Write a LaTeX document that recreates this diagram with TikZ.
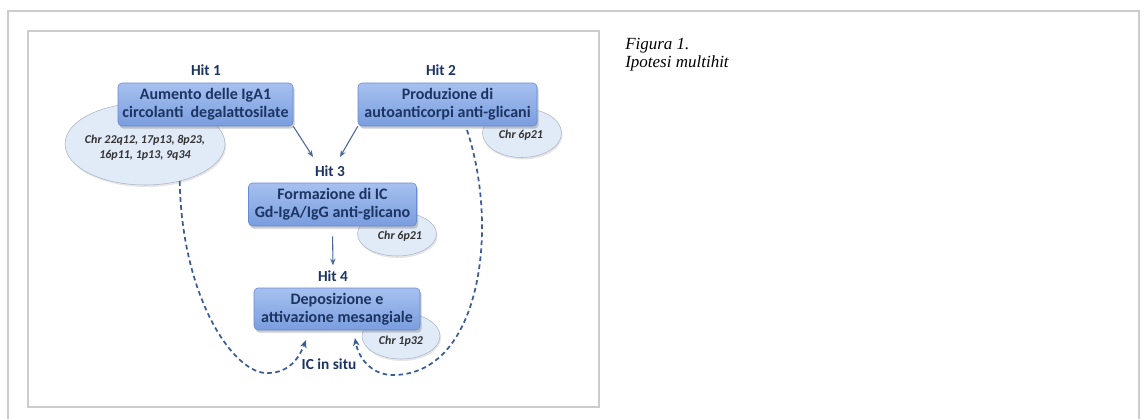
\documentclass[tikz,border=0pt]{standalone}
\usepackage{fontspec}
\setmainfont{Carlito}
\newfontfamily\capfont{Liberation Serif}
\usepackage{xcolor}
\usetikzlibrary{arrows.meta,shadows,shapes}

\definecolor{navy}{RGB}{28,52,98}
\definecolor{boxtop}{RGB}{166,193,240}
\definecolor{boxbot}{RGB}{122,157,222}
\definecolor{boxline}{RGB}{104,138,206}
\definecolor{ellfill}{RGB}{225,234,247}
\definecolor{ellline}{RGB}{170,180,198}
\definecolor{linkcol}{RGB}{74,104,156}
\definecolor{dashcol}{RGB}{62,92,148}
\definecolor{framecol}{RGB}{204,204,204}

\tikzset{
  hitbox/.style={draw=boxline, rounded corners=3pt, top color=boxtop, bottom color=boxbot,
    text=navy, font=\bfseries\fontsize{12}{13.5}\selectfont, align=center, inner sep=0.75pt,
    drop shadow={opacity=0.4, shadow xshift=1.2pt, shadow yshift=-2pt}},
  chrell/.style={ellipse, draw=ellline, fill=ellfill, inner sep=0pt,
    drop shadow={opacity=0.2, shadow xshift=0.8pt, shadow yshift=-1.5pt}},
  chrtext/.style={text=black!80, font=\bfseries\itshape\fontsize{9}{11.5}\selectfont, align=center, inner sep=0.75pt},
  hitlabel/.style={text=navy, font=\bfseries\fontsize{11.5}{13.5}\selectfont, inner sep=0.75pt},
  link/.style={draw=linkcol, line width=0.8pt, -{Stealth[length=5pt,width=4pt]}},
  dlink/.style={draw=dashcol, line width=1.3pt, dash pattern=on 3.5pt off 2.5pt, -{Stealth[length=6pt,width=5pt]}},
}

\begin{document}
\begin{tikzpicture}[x=0.75pt,y=0.75pt,yscale=-1,xscale=1]
			\useasboundingbox (0,0) rectangle (1146,418);
			% Frames
			\draw [framecol, line width=1.2pt] (8,420) -- (8,11) -- (1139,11) -- (1139,420) ;
			\draw [framecol, line width=0.9pt] (28,31) rectangle (599,407) ;
	
			% Ellipses
			\draw (145,144) node [chrell, minimum width=120pt, minimum height=61.5pt] (ell1) {};
			\draw (522,133) node [chrell, minimum width=59.25pt, minimum height=36.75pt] (ell2) {};
			\draw (397,234) node [chrell, minimum width=59.25pt, minimum height=33pt] (ell3) {};
			\draw (401,336) node [chrell, minimum width=58.5pt, minimum height=34.5pt] (ell4) {};
			% Text Node
			\draw (145,148) node [chrtext] (chr1) {Chr 22q12, 17p13, 8p23,\\16p11, 1p13, 9q34};
			% Text Node
			\draw (521,135) node [chrtext] (chr2) {Chr 6p21};
			% Text Node
			\draw (400,236) node [chrtext] (chr3) {Chr 6p21};
			% Text Node
			\draw (401,341) node [chrtext] (chr4) {Chr 1p32};
	
			% Boxes
			\draw (205.5,104.5) node [hitbox, minimum width=131.25pt, minimum height=32.25pt] (box1) {Aumento delle IgA1\\circolanti~ degalattosilate};
			\draw (447.5,104.5) node [hitbox, minimum width=134.25pt, minimum height=32.25pt] (box2) {Produzione di\\autoanticorpi anti-glicani};
			\draw (332.5,204.5) node [hitbox, minimum width=126pt, minimum height=32.25pt] (box3) {Formazione di IC\\Gd-IgA/IgG anti-glicano};
			\draw (337,309) node [hitbox, minimum width=124.5pt, minimum height=31.5pt] (box4) {Deposizione e\\attivazione mesangiale};
	
			% Text Node
			\draw (206,70) node [hitlabel] (hit1) {Hit 1};
			% Text Node
			\draw (441,70) node [hitlabel] (hit2) {Hit 2};
			% Text Node
			\draw (330,171) node [hitlabel] (hit3) {Hit 3};
			% Text Node
			\draw (333,276) node [hitlabel] (hit4) {Hit 4};
			% Text Node
			\draw (329,364) node [hitlabel] (situ) {IC in situ};
			% Text Node
			\draw (624,37) node [anchor=north west][inner sep=0.75pt, align=left, font=\capfont\itshape\fontsize{12.75}{13.5}\selectfont] (cap) {Figura 1.\\Ipotesi multihit};
	
			\coordinate (t3a) at (313,157);
			\coordinate (t3b) at (340,157);
			\coordinate (r0) at (467,130);
			\coordinate (tipL) at (306,340);
			\coordinate (tipR) at (355,338);
			% Connection
			\draw [link] (box1.south east) -- (t3a) ;
			% Connection
			\draw [link] (box2.south west) -- (t3b) ;
			% Connection
			\draw [link, shorten <=7.5pt, shorten >=3pt] (box3.south) -- (hit4.north) ;
			% Connection
			\draw [dlink] (ell1.313) .. controls (182,300) and (235,375) .. (268,373) .. controls (290,373) and (300,356) .. (tipL) ;
			% Connection
			\draw [dlink] (r0) .. controls (500,230) and (480,375) .. (393,375) .. controls (370,375) and (358,356) .. (tipR) ;
			\end{tikzpicture}
\end{document}
